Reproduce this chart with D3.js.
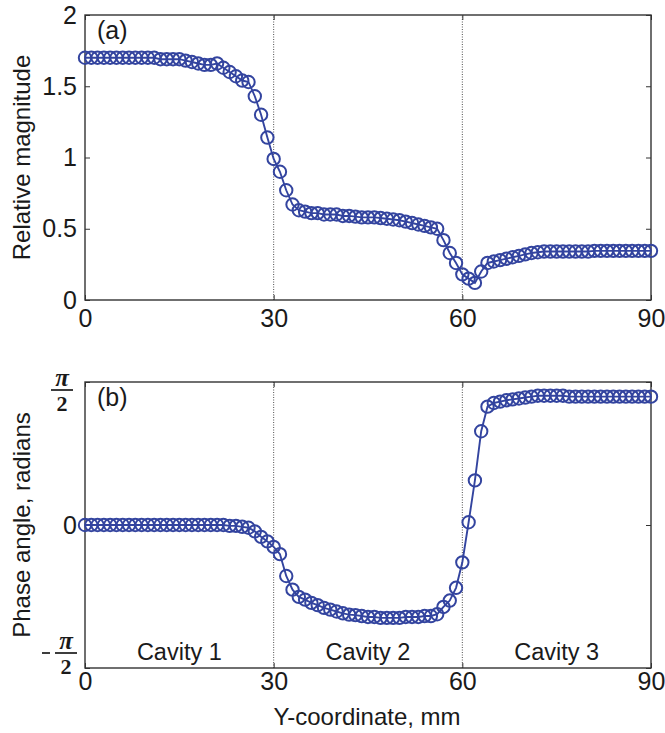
<!DOCTYPE html>
<html>
<head>
<meta charset="utf-8">
<script src="https://cdn.jsdelivr.net/npm/d3@7/dist/d3.min.js"></script>
<style>
  body { margin: 0; background: #fff; }
  svg { display: block; }
  text { font-family: "Liberation Sans", Arial, sans-serif; fill: #1a1a1a; }
</style>
</head>
<body>
<div id="chart"></div>
<script>
// sample positions along the Y-coordinate (mm)
const yCoord = [
  0, 1, 2, 3, 4, 5, 6, 7, 8, 9, 10, 11, 12, 13, 14, 15, 16, 17, 18, 19,
  20, 21, 22, 23, 24, 25, 26, 27, 28, 29, 30, 31, 32, 33, 34, 35, 36, 37, 38, 39,
  40, 41, 42, 43, 44, 45, 46, 47, 48, 49, 50, 51, 52, 53, 54, 55, 56, 57, 58, 59,
  60, 61, 62, 63, 64, 65, 66, 67, 68, 69, 70, 71, 72, 73, 74, 75, 76, 77, 78, 79,
  80, 81, 82, 83, 84, 85, 86, 87, 88, 89, 90
];

// (a) relative magnitude
const magnitude = [
  1.70, 1.70, 1.70, 1.70, 1.70, 1.70, 1.70, 1.70, 1.70, 1.70,
  1.70, 1.70, 1.69, 1.69, 1.69, 1.69, 1.68, 1.67, 1.66, 1.65,
  1.65, 1.66, 1.63, 1.60, 1.57, 1.54, 1.53, 1.43, 1.30, 1.14,
  0.99, 0.90, 0.77, 0.67, 0.63, 0.62, 0.61, 0.61, 0.60, 0.60,
  0.60, 0.59, 0.59, 0.585, 0.58, 0.58, 0.58, 0.575, 0.57, 0.565,
  0.56, 0.55, 0.54, 0.53, 0.52, 0.51, 0.50, 0.42, 0.33, 0.26,
  0.18, 0.15, 0.12, 0.20, 0.26, 0.27, 0.28, 0.29, 0.30, 0.31,
  0.32, 0.33, 0.335, 0.34, 0.34, 0.34, 0.34, 0.34, 0.34, 0.34,
  0.34, 0.345, 0.345, 0.345, 0.345, 0.345, 0.345, 0.345, 0.345, 0.345,
  0.345
];

// (b) phase angle, radians
const phase = [
  0, 0, 0, 0, 0, 0, 0, 0, 0, 0,
  0, 0, 0, 0, 0, 0, 0, 0, 0, 0,
  0, 0, 0, -0.01, -0.01, -0.02, -0.03, -0.07, -0.13, -0.18,
  -0.24, -0.32, -0.56, -0.71, -0.79, -0.82, -0.855, -0.88, -0.91, -0.93,
  -0.95, -0.97, -0.985, -0.99, -1.0, -1.01, -1.01, -1.02, -1.02, -1.02,
  -1.02, -1.01, -1.01, -1.01, -1.0, -1.0, -0.98, -0.90, -0.83, -0.69,
  -0.41, 0.03, 0.49, 1.03, 1.30, 1.34, 1.355, 1.37, 1.38, 1.39,
  1.40, 1.41, 1.42, 1.42, 1.42, 1.42, 1.42, 1.41, 1.41, 1.41,
  1.41, 1.41, 1.41, 1.41, 1.41, 1.41, 1.41, 1.41, 1.41, 1.41,
  1.41
];

const xTicks = [0, 30, 60, 90];
const magTicks = [0, 0.5, 1, 1.5, 2];
const phaseTicks = [-Math.PI / 2, 0, Math.PI / 2];
const boundaries = [30, 60];
const cavityNames = ["Cavity 1", "Cavity 2", "Cavity 3"];
const cavityCentres = [15, 45, 75];

(function () {
  const W = 665, H = 733;
  const left = 85, right = 651;
  const blue = "#33449f";
  const tick = 5;

  const svg = d3.select("#chart").append("svg")
    .attr("width", W).attr("height", H);
  svg.append("rect").attr("width", W).attr("height", H).attr("fill", "#fff");

  const x = d3.scaleLinear().domain([0, 90]).range([left, right]);
  const yA = d3.scaleLinear().domain([0, 2]).range([300, 15]);
  const yB = d3.scaleLinear().domain([-Math.PI / 2, Math.PI / 2]).range([668, 382]);

  function panel(y, values, yTicks, yFormat, xPad, tag, tagY) {
    const [y0, y1] = y.range();
    const g = svg.append("g");

    // cavity boundaries
    g.selectAll("line.bound").data(boundaries).join("line")
      .attr("class", "bound")
      .attr("x1", d => x(d)).attr("x2", d => x(d))
      .attr("y1", y0).attr("y2", y1)
      .attr("stroke", "#222").attr("stroke-width", 0.8)
      .attr("stroke-dasharray", "1,1.5");

    // axes, ticks pointing inwards on all four sides
    const bottom = g.append("g").attr("transform", `translate(0,${y0})`)
      .call(d3.axisBottom(x).tickValues(xTicks).tickSizeInner(-tick).tickSizeOuter(0).tickPadding(xPad));
    g.append("g").attr("transform", `translate(0,${y1})`)
      .call(d3.axisTop(x).tickValues(xTicks).tickSizeInner(-tick).tickSizeOuter(0).tickFormat(""));
    const leftAx = g.append("g").attr("transform", `translate(${left},0)`)
      .call(d3.axisLeft(y).tickValues(yTicks).tickSizeInner(-tick).tickSizeOuter(0).tickPadding(8).tickFormat(yFormat));
    g.append("g").attr("transform", `translate(${right},0)`)
      .call(d3.axisRight(y).tickValues(yTicks).tickSizeInner(-tick).tickSizeOuter(0).tickFormat(""));

    g.selectAll(".domain").remove();
    g.selectAll(".tick line").attr("stroke", "#333");
    bottom.selectAll("text").attr("font-size", 25).attr("dy", "0.71em").attr("fill", "#1a1a1a");
    leftAx.selectAll("text").attr("font-size", 25).attr("fill", "#1a1a1a");
    g.selectAll(".tick text").attr("font-family", "Liberation Sans, Arial, sans-serif");

    g.append("rect")
      .attr("x", left).attr("y", y1)
      .attr("width", right - left).attr("height", y0 - y1)
      .attr("fill", "none").attr("stroke", "#333").attr("stroke-width", 1.4);

    const pts = yCoord.map((d, i) => [d, values[i]]);
    g.append("path").datum(pts)
      .attr("fill", "none").attr("stroke", blue).attr("stroke-width", 1.9)
      .attr("d", d3.line().x(d => x(d[0])).y(d => y(d[1])));
    g.selectAll("circle").data(pts).join("circle")
      .attr("cx", d => x(d[0])).attr("cy", d => y(d[1]))
      .attr("r", 6.2)
      .attr("fill", "none").attr("stroke", blue).attr("stroke-width", 2);

    g.append("text").attr("x", 97).attr("y", tagY)
      .attr("font-size", 25).text(tag);
    return g;
  }

  panel(yA, magnitude, magTicks, d3.format("~g"), 9, "(a)", 39);
  const gB = panel(yB, phase, phaseTicks, d => (d === 0 ? "0" : ""), 4, "(b)", 406);

  // pi/2 style tick labels
  function fraction(val, cx, dy, neg) {
    const f = gB.append("g").attr("transform", `translate(${cx},${yB(val) + dy})`);
    f.append("text").attr("x", 0).attr("y", -4)
      .attr("text-anchor", "middle")
      .style("font-family", "Liberation Serif, Times New Roman, serif")
      .style("font-style", "italic").style("font-weight", "bold")
      .attr("font-size", 25).text("\u03c0");
    f.append("line").attr("x1", -11).attr("x2", 11).attr("y1", 0).attr("y2", 0)
      .attr("stroke", "#1a1a1a").attr("stroke-width", 1.7);
    f.append("text").attr("x", 0).attr("y", 21)
      .attr("text-anchor", "middle")
      .style("font-family", "Liberation Serif, Times New Roman, serif")
      .style("font-weight", "bold")
      .attr("font-size", 22).text("2");
    if (neg) {
      f.append("line").attr("x1", -24).attr("x2", -16).attr("y1", 0).attr("y2", 0)
        .attr("stroke", "#1a1a1a").attr("stroke-width", 1.7);
    }
  }
  fraction(Math.PI / 2, 62, 8, false);
  fraction(-Math.PI / 2, 66, -15, true);

  // cavity labels
  gB.selectAll("text.cavity").data(cavityNames).join("text")
    .attr("class", "cavity")
    .attr("x", (d, i) => x(cavityCentres[i]))
    .attr("y", yB.range()[0] - 8)
    .attr("text-anchor", "middle")
    .attr("font-size", 23.5)
    .text(d => d);

  // axis titles
  svg.append("text")
    .attr("transform", `translate(30,${(yA.range()[0] + yA.range()[1]) / 2}) rotate(-90)`)
    .attr("text-anchor", "middle").attr("font-size", 24)
    .text("Relative magnitude");
  svg.append("text")
    .attr("transform", `translate(30,${(yB.range()[0] + yB.range()[1]) / 2}) rotate(-90)`)
    .attr("text-anchor", "middle").attr("font-size", 24)
    .text("Phase angle, radians");
  svg.append("text")
    .attr("x", (left + right) / 2 - 1).attr("y", 725)
    .attr("text-anchor", "middle").attr("font-size", 24)
    .text("Y-coordinate, mm");
})();
</script>
</body>
</html>
